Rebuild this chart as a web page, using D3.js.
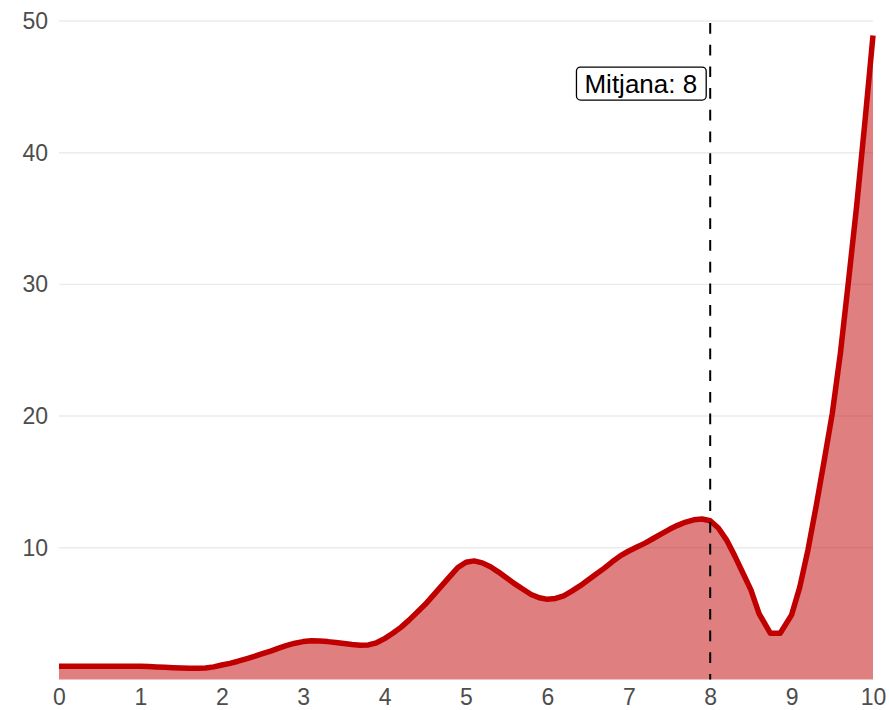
<!DOCTYPE html>
<html>
<head>
<meta charset="utf-8">
<script src="https://cdn.jsdelivr.net/npm/d3@7"></script>
<style>
  body { margin: 0; background: #fff; }
  svg { display: block; font-family: "Liberation Sans", Arial, sans-serif; }
</style>
</head>
<body>
<svg id="chart" width="889" height="710"></svg>
<script>
// ---- data ----
const xValues = [0,0.1,0.2,0.3,0.4,0.5,0.6,0.7,0.8,0.9,1.0,1.1,1.2,1.3,1.4,1.5,1.6,1.7,1.8,1.9,
  2.0,2.1,2.2,2.3,2.4,2.5,2.6,2.7,2.8,2.9,3.0,3.1,3.2,3.3,3.4,3.5,3.6,3.7,3.8,3.9,
  4.0,4.1,4.2,4.3,4.4,4.5,4.6,4.7,4.8,4.9,5.0,5.1,5.2,5.3,5.4,5.5,5.6,5.7,5.8,5.9,
  6.0,6.1,6.2,6.3,6.4,6.5,6.6,6.7,6.8,6.9,7.0,7.1,7.2,7.3,7.4,7.5,7.6,7.7,7.8,7.9,
  8.0,8.1,8.2,8.3,8.4,8.5,8.6,8.74,8.86,9.0,9.1,9.2,9.3,9.4,9.5,9.6,9.7,9.8,9.9,10.0];
const yValues = [1.0,1.0,1.0,1.0,1.0,1.0,1.0,1.0,1.0,1.0,1.0,0.98,0.95,0.92,0.89,0.86,0.84,0.84,0.86,0.95,
  1.09,1.22,1.38,1.56,1.75,1.95,2.15,2.38,2.58,2.75,2.87,2.93,2.92,2.87,2.8,2.72,2.65,2.6,2.62,2.78,
  3.1,3.5,3.95,4.5,5.1,5.7,6.4,7.1,7.8,8.5,8.9,9.0,8.85,8.55,8.15,7.7,7.25,6.85,6.45,6.2,
  6.08,6.15,6.35,6.7,7.1,7.55,8.0,8.45,8.95,9.4,9.75,10.05,10.35,10.7,11.05,11.4,11.7,11.95,12.12,12.18,
  12.05,11.5,10.6,9.4,8.1,6.8,5.0,3.5,3.5,4.9,7.0,9.8,13.1,16.6,20.2,24.8,30.3,36.0,42.3,48.9];
const xTicks = [0,1,2,3,4,5,6,7,8,9,10];
const yTicks = [10,20,30,40,50];
const meanValue = 8;
const meanLabel = "Mitjana: 8";
const labelY = 45.25;

// ---- layout ----
const svg = d3.select("#chart");
const x = d3.scaleLinear().domain([0, 10]).range([59, 873]);
const y = d3.scaleLinear().domain([0, 50]).range([679.4, 21]);
const data = xValues.map((v, i) => ({x: v, y: yValues[i]}));

// gridlines
svg.append("g").selectAll("line").data(yTicks).join("line")
  .attr("x1", 59).attr("x2", 873)
  .attr("y1", d => y(d)).attr("y2", d => y(d))
  .attr("stroke", "#ebebeb").attr("stroke-width", 1.4);

// area
svg.append("path").datum(data)
  .attr("d", d3.area().x(d => x(d.x)).y0(y(0)).y1(d => y(d.y)))
  .attr("fill", "#c00000").attr("fill-opacity", 0.5);

// line
svg.append("path").datum(data)
  .attr("d", d3.line().x(d => x(d.x)).y(d => y(d.y)))
  .attr("fill", "none").attr("stroke", "#c00000").attr("stroke-width", 5.5)
  .attr("stroke-linejoin", "round");

// mean line
svg.append("line")
  .attr("x1", x(meanValue)).attr("x2", x(meanValue))
  .attr("y1", y(50) + 2).attr("y2", y(0))
  .attr("stroke", "#000").attr("stroke-width", 2)
  .attr("stroke-dasharray", "10.7,11");

// label
const lg = svg.append("g");
const lt = lg.append("text")
  .attr("x", x(meanValue) - 13).attr("y", y(labelY))
  .attr("text-anchor", "end").attr("dy", "0.36em")
  .attr("font-size", 26).attr("fill", "#000")
  .text(meanLabel);
const bb = lt.node().getBBox();
lg.insert("rect", "text")
  .attr("x", bb.x - 8).attr("y", y(labelY) - 16.5)
  .attr("width", bb.width + 17).attr("height", 33)
  .attr("rx", 4).attr("ry", 4)
  .attr("fill", "#fff").attr("stroke", "#000").attr("stroke-width", 1.3);

// axes (labels only)
const yAxis = d3.axisLeft(y).tickValues(yTicks).tickSize(0).tickPadding(0).tickFormat(d3.format("d"));
const gy = svg.append("g").attr("transform", "translate(48,0)").call(yAxis);
gy.select(".domain").remove();
gy.selectAll("text").attr("font-size", 23).attr("fill", "#4d4d4d")
  .attr("font-family", "'Liberation Sans', Arial, sans-serif");

const xAxis = d3.axisBottom(x).tickValues(xTicks).tickSize(0).tickPadding(0).tickFormat(d3.format("d"));
const gx = svg.append("g").attr("transform", "translate(0,689)").call(xAxis);
gx.select(".domain").remove();
gx.selectAll("text").attr("font-size", 23).attr("fill", "#4d4d4d").attr("dy", "0.71em")
  .attr("font-family", "'Liberation Sans', Arial, sans-serif");
</script>
</body>
</html>
